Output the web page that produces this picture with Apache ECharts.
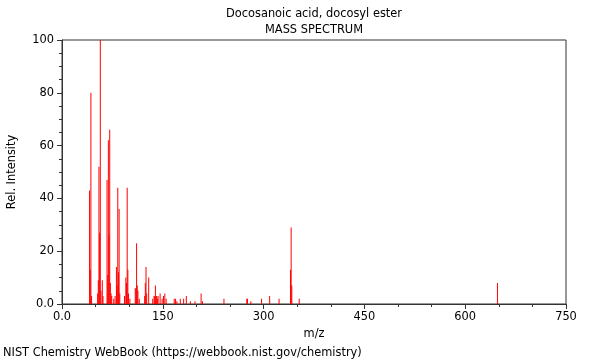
<!DOCTYPE html>
<html><head><meta charset="utf-8">
<script src="https://cdn.jsdelivr.net/npm/echarts@6/dist/echarts.min.js"></script>
<style>html,body{margin:0;padding:0;background:#fff}#c{width:600px;height:360px}</style>
</head><body><div id="c"></div>
<script>
const mzValues = [41,42,43,44,53,54,55,56,57,58,60,61,67,68,69,70,71,72,73,74,77,79,81,82,83,84,85,86,93,95,96,97,98,99,101,109,110,111,112,113,115,123,124,125,126,129,135,137,138,139,140,141,142,143,146,149,151,153,155,167,169,171,176,181,185,191,198,207,209,241,275,276,281,297,309,323,340,341,342,353,648];
const intensities = [43,13,80,3,4,9,52,27,100,5,9,3,47,11,62,26,66,8,4,3,2,3,14,7,44,12,36,4,3,10,8,44,13,4,2,6,6,23,7,5,2,3,8,14,4,10,2,3,3,7,3,3,2,3,4,2,3,4,2,2,2,1,2,2,3,1,1,4,1,2,2,2,1,2,3,2,13,29,7,2,8];
const xTicks = [0,150,300,450,600,750];
const yTicks = [0,20,40,60,80,100];

const chart = echarts.init(document.getElementById('c'), null, {renderer:'canvas'});
const font = 'DejaVu Sans';
const fs = 11.4;
const tf = fs + 'px "DejaVu Sans"';
chart.setOption({
  animation:false,
  grid:{left:62,right:34,top:40,bottom:56,show:true,borderColor:'#333',borderWidth:1,backgroundColor:'transparent'},
  xAxis:{type:'value',min:xTicks[0],max:xTicks[xTicks.length-1],interval:150,
    axisLine:{show:true,lineStyle:{color:'#333'}},
    axisTick:{show:true,length:5,lineStyle:{color:'#333'}},
    minorTick:{show:true,splitNumber:3,length:3,lineStyle:{color:'#333'}},
    splitLine:{show:false},
    axisLabel:{color:'#000',fontFamily:font,fontSize:fs,margin:8,formatter:v=>v===0?'0.0':String(v)}},
  yAxis:{type:'value',min:yTicks[0],max:yTicks[yTicks.length-1],interval:20,
    axisLine:{show:true,lineStyle:{color:'#333'}},
    axisTick:{show:true,length:5,lineStyle:{color:'#333'}},
    minorTick:{show:true,splitNumber:4,length:3,lineStyle:{color:'#333'}},
    splitLine:{show:false},
    axisLabel:{color:'#000',fontFamily:font,fontSize:fs,margin:8,formatter:v=>v===0?'0.0':String(v)}},
  series:[{type:'bar',barWidth:1,itemStyle:{color:'#ff0000'},
    data:mzValues.map((m,i)=>[m,intensities[i]])}],
  graphic:[
    {type:'text',style:{text:'Docosanoic acid, docosyl ester',x:314,y:14,align:'center',verticalAlign:'middle',font:tf,fill:'#000'}},
    {type:'text',style:{text:'MASS SPECTRUM',x:314,y:30,align:'center',verticalAlign:'middle',font:tf,fill:'#000'}},
    {type:'text',style:{text:'m/z',x:314,y:334,align:'center',verticalAlign:'middle',font:tf,fill:'#000'}},
    {type:'text',rotation:Math.PI/2,x:12,y:172,style:{text:'Rel. Intensity',x:0,y:0,align:'center',verticalAlign:'middle',font:tf,fill:'#000'}},
    {type:'text',style:{text:'NIST Chemistry WebBook (https://webbook.nist.gov/chemistry)',x:3,y:353,align:'left',verticalAlign:'middle',font:tf,fill:'#000'}}
  ]
});
</script></body></html>
